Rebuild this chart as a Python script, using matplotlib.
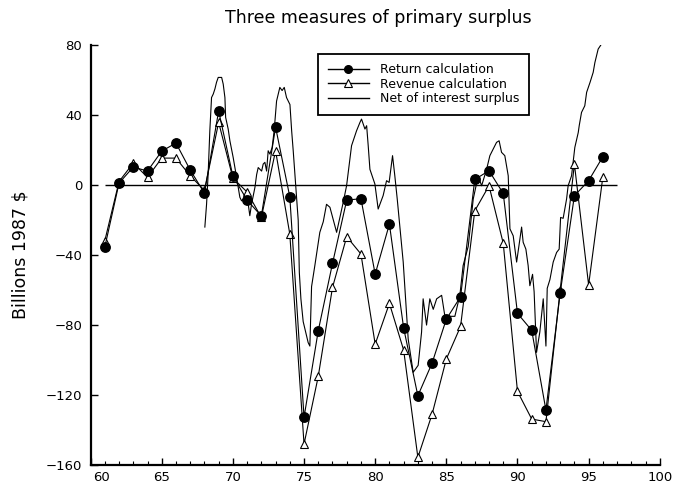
import numpy as np
import matplotlib
matplotlib.use("Agg")
import matplotlib.pyplot as plt
from matplotlib.transforms import ScaledTranslation
from matplotlib.legend_handler import HandlerLine2D

# Return calculation, yearly 1961-1996
ret_years = list(range(61, 97))
ret_vals = [-35.4, 1.1, 10.3, 8.0, 19.4, 24.0, 8.6, -4.6, 42.3, 5.1,
            -8.6, -17.7, 33.1, -6.7, -132.7, -83.2, -44.8, -8.6, -7.8, -50.9,
            -22.3, -81.7, -120.4, -101.7, -76.6, -63.8, 3.2, 8.2, -4.8, -73.3,
            -83.0, -128.6, -61.7, -6.1, 2.5, 16.2]

# Revenue calculation, yearly 1961-1996
rev_years = list(range(61, 97))
rev_vals = [-31.8, 2.0, 12.6, 4.4, 15.4, 15.4, 5.3, -3.0, 35.8, 4.0,
            -4.0, -18.5, 19.6, -28.0, -148.0, -109.3, -58.5, -29.5, -39.4, -90.9,
            -67.6, -94.3, -155.6, -130.9, -99.4, -80.8, -14.7, -0.4, -33.3, -117.9,
            -133.7, -135.2, -60.0, 12.0, -57.1, 4.7]

# Net of interest surplus
net_years = [68.03, 68.15, 68.26, 68.38, 68.50, 68.62, 68.74, 68.85, 68.97, 69.21,
             69.32, 69.44, 69.49, 69.67, 69.79, 70.02, 70.26, 70.49, 70.61, 70.84,
             71.08, 71.19, 71.31, 71.55, 71.67, 71.78, 72.02, 72.13, 72.25, 72.37,
             72.48, 72.60, 72.76, 72.90, 73.07, 73.30, 73.46, 73.61, 73.77, 74.01,
             74.13, 74.24, 74.36, 74.48, 74.59, 74.67, 74.78, 74.94, 75.29, 75.41,
             75.53, 75.76, 76.11, 76.35, 76.58, 76.82, 77.29, 77.52, 77.75, 77.99,
             78.22, 78.34, 78.69, 78.93, 79.04, 79.16, 79.28, 79.40, 79.51, 79.63,
             79.98, 80.21, 80.56, 80.80, 80.98, 81.22, 81.38, 81.55, 81.97, 82.32,
             82.67, 83.02, 83.26, 83.37, 83.61, 83.84, 84.08, 84.32, 84.67, 84.90,
             85.02, 85.60, 85.95, 86.18, 86.54, 86.89, 87.24, 87.48, 87.83, 88.06,
             88.53, 88.71, 88.88, 89.11, 89.35, 89.47, 89.70, 89.94, 90.17, 90.29,
             90.40, 90.59, 90.75, 90.87, 91.06, 91.17, 91.34, 91.57, 91.81, 92.00,
             92.09, 92.28, 92.51, 92.75, 92.93, 93.03, 93.21, 93.45, 93.56, 93.80,
             94.03, 94.27, 94.34, 94.50, 94.73, 94.86, 95.10, 95.32, 95.44, 95.67,
             95.91, 96.02]
net_vals = [-24, -11, 6, 31, 50, 52, 55, 58.7, 61.5, 61.5,
            57.7, 50, 38.7, 32, 25.3, 15.8, 4.4, -7, -9, -7,
            -11, -17.5, -11, -1.3, 6, 10, 8, 12, 13, 8,
            19.6, 17.7, 21.5, 31, 48, 55.8, 54, 55.8, 50, 46,
            31, 19.6, 6, -7, -20, -50, -65, -78, -90, -92,
            -58, -46, -27, -21, -11, -12.7, -27, -18.5, -10, -0.4,
            14.9, 22.5, 31, 35.8, 37.7, 34.9, 32, 33.9, 22.5, 9,
            0.6, -13.7, -6, 2.5, 1.5, 16.8, 5.3, -8, -44, -88,
            -107, -103, -84, -65, -80, -65, -71, -65, -63, -75,
            -75, -75, -63, -46, -35, -8, 5.3, -0.4, 9, 16.8,
            24.4, 25.3, 18.7, 16.8, 5.3, -25, -29, -44, -31, -24,
            -32.7, -36.6, -46, -57.5, -51, -61, -95.6, -84, -65, -92,
            -59, -54, -44, -38.5, -36.6, -18.5, -19, -8, -0.4, 5.3,
            21.5, 30, 34, 41.5, 45.3, 53, 58.7, 64.4, 70, 77.7,
            80.6, 82]

zero_span = (61, 97)
x_ticks = list(range(60, 101, 5))
y_ticks = list(range(-160, 81, 40))


class LeftMarkerHandler(HandlerLine2D):
    # legend sample with the marker at the left end of the line
    def get_xdata(self, legend, xdescent, ydescent, width, height, fontsize):
        xdata = np.array([-xdescent, -xdescent + width])
        return xdata, np.array([-xdescent])


fig = plt.figure(figsize=(6.76, 4.87), dpi=100)
ax = fig.add_axes([0.134, 0.045, 0.842, 0.8625])

ax.plot(net_years, net_vals, color="black", lw=0.8, label="Net of interest surplus", zorder=2)
ax.plot(rev_years, rev_vals, color="black", lw=0.8, marker="^", ms=5.5,
        mfc="white", mec="black", mew=0.8, label="Revenue calculation", zorder=3)
ax.plot(ret_years, ret_vals, color="black", lw=0.8, marker="o", ms=6.8,
        mfc="black", mec="black", label="Return calculation", zorder=4)
ax.hlines(0, zero_span[0], zero_span[1], color="black", lw=1.0, zorder=1)

ax.set_xlim(60, 100)
ax.set_ylim(-160, 80)
ax.set_xticks(x_ticks)
ax.set_xticks(range(60, 101), minor=True)
ax.set_yticks(y_ticks)
ax.set_yticklabels([str(v).replace("-", "\u2212") for v in y_ticks])
ax.tick_params(axis="both", which="major", direction="in", length=5, width=1,
               labelsize=9.5, pad=6)
ax.tick_params(axis="x", which="minor", direction="in", length=3, width=0.8)
ax.tick_params(axis="x", pad=4)

for side in ("top", "right"):
    ax.spines[side].set_visible(False)
for side in ("left", "bottom"):
    ax.spines[side].set_linewidth(1.6)

ax.set_ylabel("Billions 1987 $", fontsize=12.5, labelpad=12)
fig.text(0.56, 0.963, "Three measures of primary surplus", ha="center", va="center",
         fontsize=12.5)

handles, labels = ax.get_legend_handles_labels()
order = [2, 1, 0]
hmap = {h: LeftMarkerHandler() for h in handles}
leg = ax.legend([handles[i] for i in order], [labels[i] for i in order],
                handler_map=hmap,
                loc="upper left", bbox_to_anchor=(0.40, 0.979), borderaxespad=0,
                fontsize=9, frameon=True, fancybox=False, edgecolor="black",
                framealpha=1, handlelength=3.3, borderpad=0.75, labelspacing=0.12,
                handletextpad=0.9)
leg.get_frame().set_linewidth(1.3)
for line in leg.get_lines():
    line.set_markersize(5.5)
    line.set_linewidth(1.0)

# first x label sits a bit right of the axis corner in the original
lbl = ax.get_xticklabels()[0]
lbl.set_transform(lbl.get_transform() + ScaledTranslation(8 / 72, 0, fig.dpi_scale_trans))

fig.savefig("out.png", dpi=100)
